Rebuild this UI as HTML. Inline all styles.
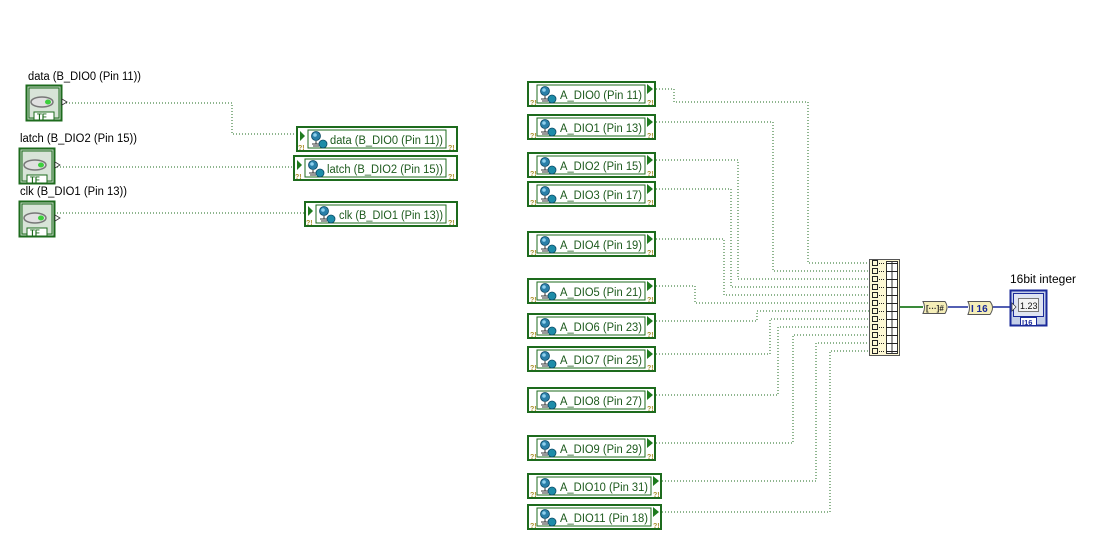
<!DOCTYPE html>
<html><head><meta charset="utf-8"><style>
html,body{margin:0;padding:0;background:#fff;width:1117px;height:557px;overflow:hidden}
svg{display:block}
text{font-family:"Liberation Sans",sans-serif}
</style></head><body>
<svg width="1117" height="557" viewBox="0 0 1117 557" xmlns="http://www.w3.org/2000/svg">
<defs>
<g id="glob">
 <circle cx="5" cy="5" r="4.5" fill="#2a7fa8" stroke="#0d4a66" stroke-width="0.8"/>
 <circle cx="4" cy="4" r="1.8" fill="#8fd0ee"/>
 <path d="M5 10 V13 M1 13 H9 M2 15 H8" stroke="#333" stroke-width="1"/>
 <circle cx="12" cy="13" r="4" fill="#1d8ca8" stroke="#0d4a66" stroke-width="0.8"/>
</g>
<g id="qq"><text font-size="7" font-weight="bold" fill="#a8902a">?!</text></g>
<g id="bool">
 <rect x="0.5" y="0.5" width="35" height="35" fill="#c8d8c8" stroke="#1d6b1d" stroke-width="2"/>
 <rect x="3" y="3" width="30" height="30" fill="#d8e4d8" stroke="#1d6b1d" stroke-width="1"/>
 <ellipse cx="16" cy="17" rx="11" ry="5" fill="#e0e0e0" stroke="#777" stroke-width="1.5"/>
 <ellipse cx="22" cy="17" rx="3" ry="2.5" fill="#3ccf3c"/>
 <rect x="8" y="27" width="20" height="8" fill="#fff" stroke="#1d6b1d" stroke-width="1"/>
 <text x="11" y="34.5" font-size="8" font-weight="bold" fill="#1d6b1d">TF</text>
 <path d="M36 14 L41 17 L36 20 Z" fill="#fff" stroke="#333" stroke-width="0.8"/>
</g>
</defs>
<g fill="none" stroke="#1d6b1d" stroke-width="1" stroke-dasharray="1,2">
 <path d="M63 103 H232 V134 H298"/>
 <path d="M57 167 H295"/>
 <path d="M57 213 H306"/>
 <path d="M656 89 H674 V102 H808 V263 H869"/>
 <path d="M656 122 H773 V271 H869"/>
 <path d="M656 160 H738 V279 H869"/>
 <path d="M656 189 H731 V287 H869"/>
 <path d="M656 239 H724 V295 H869"/>
 <path d="M656 286 H695 V303 H869"/>
 <path d="M656 321 H757 V311 H869"/>
 <path d="M656 354 H770 V319 H869"/>
 <path d="M656 395 H778 V327 H869"/>
 <path d="M656 443 H793 V335 H869"/>
 <path d="M662 481 H816 V343 H869"/>
 <path d="M662 512 H830 V351 H869"/>
 <path d="M900 307 H923" stroke-dasharray="none" stroke-width="2" stroke="#3a8a3a"/>
</g>
<path d="M948 307 H968 M993 307 H1012" stroke="#1a2a9a" stroke-width="1.5"/>

<text x="28" y="80" font-size="11.5" fill="#000" textLength="113" lengthAdjust="spacingAndGlyphs">data (B_DIO0 (Pin 11))</text>
<use href="#bool" x="26" y="85"/>
<text x="20" y="142" font-size="11.5" fill="#000" textLength="117" lengthAdjust="spacingAndGlyphs">latch (B_DIO2 (Pin 15))</text>
<use href="#bool" x="19" y="148"/>
<text x="20" y="195" font-size="11.5" fill="#000" textLength="107" lengthAdjust="spacingAndGlyphs">clk (B_DIO1 (Pin 13))</text>
<use href="#bool" x="19" y="201"/>

<g>
 <rect x="297" y="127" width="160" height="24" fill="#fff" stroke="#1d6b1d" stroke-width="2"/>
 <rect x="308" y="130" width="138" height="18" fill="#fff" stroke="#1d6b1d"/>
 <path d="M300 131 L305 136 L300 141Z" fill="#1d7a1d"/>
 <use href="#qq" x="298" y="150"/><use href="#qq" x="448" y="150"/>
 <use href="#glob" x="311" y="131"/>
 <text x="330" y="144" font-size="11.5" fill="#1d5a1d" textLength="113" lengthAdjust="spacingAndGlyphs">data (B_DIO0 (Pin 11))</text>
</g>
<g>
 <rect x="294" y="156" width="163" height="24" fill="#fff" stroke="#1d6b1d" stroke-width="2"/>
 <rect x="305" y="159" width="141" height="18" fill="#fff" stroke="#1d6b1d"/>
 <path d="M297 160 L302 165 L297 170Z" fill="#1d7a1d"/>
 <use href="#qq" x="295" y="179"/><use href="#qq" x="448" y="179"/>
 <use href="#glob" x="308" y="160"/>
 <text x="327" y="173" font-size="11.5" fill="#1d5a1d" textLength="116" lengthAdjust="spacingAndGlyphs">latch (B_DIO2 (Pin 15))</text>
</g>
<g>
 <rect x="305" y="202" width="152" height="24" fill="#fff" stroke="#1d6b1d" stroke-width="2"/>
 <rect x="316" y="205" width="130" height="18" fill="#fff" stroke="#1d6b1d"/>
 <path d="M308 206 L313 211 L308 216Z" fill="#1d7a1d"/>
 <use href="#qq" x="306" y="225"/><use href="#qq" x="448" y="225"/>
 <use href="#glob" x="319" y="206"/>
 <text x="339" y="219" font-size="11.5" fill="#1d5a1d" textLength="104" lengthAdjust="spacingAndGlyphs">clk (B_DIO1 (Pin 13))</text>
</g>

<g>
 <rect x="528" y="82" width="127" height="24" fill="#fff" stroke="#1d6b1d" stroke-width="2"/>
 <rect x="537" y="85" width="108" height="18" fill="#fff" stroke="#1d6b1d"/>
 <path d="M647 84 L653 89 L647 94Z" fill="#1d7a1d"/>
 <use href="#qq" x="530" y="105"/><use href="#qq" x="647" y="105"/>
 <use href="#glob" x="540" y="86"/>
 <text x="560" y="99" font-size="11.5" fill="#1d5a1d" textLength="82" lengthAdjust="spacingAndGlyphs">A_DIO0 (Pin 11)</text>
</g>
<g transform="translate(0,33)">
 <rect x="528" y="82" width="127" height="24" fill="#fff" stroke="#1d6b1d" stroke-width="2"/>
 <rect x="537" y="85" width="108" height="18" fill="#fff" stroke="#1d6b1d"/>
 <path d="M647 84 L653 89 L647 94Z" fill="#1d7a1d"/>
 <use href="#qq" x="530" y="105"/><use href="#qq" x="647" y="105"/>
 <use href="#glob" x="540" y="86"/>
 <text x="560" y="99" font-size="11.5" fill="#1d5a1d" textLength="82" lengthAdjust="spacingAndGlyphs">A_DIO1 (Pin 13)</text>
</g>
<g transform="translate(0,71)">
 <rect x="528" y="82" width="127" height="24" fill="#fff" stroke="#1d6b1d" stroke-width="2"/>
 <rect x="537" y="85" width="108" height="18" fill="#fff" stroke="#1d6b1d"/>
 <path d="M647 84 L653 89 L647 94Z" fill="#1d7a1d"/>
 <use href="#qq" x="530" y="105"/><use href="#qq" x="647" y="105"/>
 <use href="#glob" x="540" y="86"/>
 <text x="560" y="99" font-size="11.5" fill="#1d5a1d" textLength="82" lengthAdjust="spacingAndGlyphs">A_DIO2 (Pin 15)</text>
</g>
<g transform="translate(0,100)">
 <rect x="528" y="82" width="127" height="24" fill="#fff" stroke="#1d6b1d" stroke-width="2"/>
 <rect x="537" y="85" width="108" height="18" fill="#fff" stroke="#1d6b1d"/>
 <path d="M647 84 L653 89 L647 94Z" fill="#1d7a1d"/>
 <use href="#qq" x="530" y="105"/><use href="#qq" x="647" y="105"/>
 <use href="#glob" x="540" y="86"/>
 <text x="560" y="99" font-size="11.5" fill="#1d5a1d" textLength="82" lengthAdjust="spacingAndGlyphs">A_DIO3 (Pin 17)</text>
</g>
<g transform="translate(0,150)">
 <rect x="528" y="82" width="127" height="24" fill="#fff" stroke="#1d6b1d" stroke-width="2"/>
 <rect x="537" y="85" width="108" height="18" fill="#fff" stroke="#1d6b1d"/>
 <path d="M647 84 L653 89 L647 94Z" fill="#1d7a1d"/>
 <use href="#qq" x="530" y="105"/><use href="#qq" x="647" y="105"/>
 <use href="#glob" x="540" y="86"/>
 <text x="560" y="99" font-size="11.5" fill="#1d5a1d" textLength="82" lengthAdjust="spacingAndGlyphs">A_DIO4 (Pin 19)</text>
</g>
<g transform="translate(0,197)">
 <rect x="528" y="82" width="127" height="24" fill="#fff" stroke="#1d6b1d" stroke-width="2"/>
 <rect x="537" y="85" width="108" height="18" fill="#fff" stroke="#1d6b1d"/>
 <path d="M647 84 L653 89 L647 94Z" fill="#1d7a1d"/>
 <use href="#qq" x="530" y="105"/><use href="#qq" x="647" y="105"/>
 <use href="#glob" x="540" y="86"/>
 <text x="560" y="99" font-size="11.5" fill="#1d5a1d" textLength="82" lengthAdjust="spacingAndGlyphs">A_DIO5 (Pin 21)</text>
</g>
<g transform="translate(0,232)">
 <rect x="528" y="82" width="127" height="24" fill="#fff" stroke="#1d6b1d" stroke-width="2"/>
 <rect x="537" y="85" width="108" height="18" fill="#fff" stroke="#1d6b1d"/>
 <path d="M647 84 L653 89 L647 94Z" fill="#1d7a1d"/>
 <use href="#qq" x="530" y="105"/><use href="#qq" x="647" y="105"/>
 <use href="#glob" x="540" y="86"/>
 <text x="560" y="99" font-size="11.5" fill="#1d5a1d" textLength="82" lengthAdjust="spacingAndGlyphs">A_DIO6 (Pin 23)</text>
</g>
<g transform="translate(0,265)">
 <rect x="528" y="82" width="127" height="24" fill="#fff" stroke="#1d6b1d" stroke-width="2"/>
 <rect x="537" y="85" width="108" height="18" fill="#fff" stroke="#1d6b1d"/>
 <path d="M647 84 L653 89 L647 94Z" fill="#1d7a1d"/>
 <use href="#qq" x="530" y="105"/><use href="#qq" x="647" y="105"/>
 <use href="#glob" x="540" y="86"/>
 <text x="560" y="99" font-size="11.5" fill="#1d5a1d" textLength="82" lengthAdjust="spacingAndGlyphs">A_DIO7 (Pin 25)</text>
</g>
<g transform="translate(0,306)">
 <rect x="528" y="82" width="127" height="24" fill="#fff" stroke="#1d6b1d" stroke-width="2"/>
 <rect x="537" y="85" width="108" height="18" fill="#fff" stroke="#1d6b1d"/>
 <path d="M647 84 L653 89 L647 94Z" fill="#1d7a1d"/>
 <use href="#qq" x="530" y="105"/><use href="#qq" x="647" y="105"/>
 <use href="#glob" x="540" y="86"/>
 <text x="560" y="99" font-size="11.5" fill="#1d5a1d" textLength="82" lengthAdjust="spacingAndGlyphs">A_DIO8 (Pin 27)</text>
</g>
<g transform="translate(0,354)">
 <rect x="528" y="82" width="127" height="24" fill="#fff" stroke="#1d6b1d" stroke-width="2"/>
 <rect x="537" y="85" width="108" height="18" fill="#fff" stroke="#1d6b1d"/>
 <path d="M647 84 L653 89 L647 94Z" fill="#1d7a1d"/>
 <use href="#qq" x="530" y="105"/><use href="#qq" x="647" y="105"/>
 <use href="#glob" x="540" y="86"/>
 <text x="560" y="99" font-size="11.5" fill="#1d5a1d" textLength="82" lengthAdjust="spacingAndGlyphs">A_DIO9 (Pin 29)</text>
</g>
<g transform="translate(0,392)">
 <rect x="528" y="82" width="133" height="24" fill="#fff" stroke="#1d6b1d" stroke-width="2"/>
 <rect x="537" y="85" width="114" height="18" fill="#fff" stroke="#1d6b1d"/>
 <path d="M653 84 L659 89 L653 94Z" fill="#1d7a1d"/>
 <use href="#qq" x="530" y="105"/><use href="#qq" x="653" y="105"/>
 <use href="#glob" x="540" y="86"/>
 <text x="560" y="99" font-size="11.5" fill="#1d5a1d" textLength="88" lengthAdjust="spacingAndGlyphs">A_DIO10 (Pin 31)</text>
</g>
<g transform="translate(0,423)">
 <rect x="528" y="82" width="133" height="24" fill="#fff" stroke="#1d6b1d" stroke-width="2"/>
 <rect x="537" y="85" width="114" height="18" fill="#fff" stroke="#1d6b1d"/>
 <path d="M653 84 L659 89 L653 94Z" fill="#1d7a1d"/>
 <use href="#qq" x="530" y="105"/><use href="#qq" x="653" y="105"/>
 <use href="#glob" x="540" y="86"/>
 <text x="560" y="99" font-size="11.5" fill="#1d5a1d" textLength="88" lengthAdjust="spacingAndGlyphs">A_DIO11 (Pin 18)</text>
</g>

<rect x="869.5" y="259.5" width="30" height="96" fill="#fdf8d4" stroke="#555"/>
<rect x="886.5" y="261.5" width="11" height="92" fill="#fff" stroke="#333"/>
<path d="M892 262 V353" stroke="#333"/>
<g stroke="#222" fill="none">
 <rect x="872.5" y="260.5" width="5" height="5"/><rect x="872.5" y="268.5" width="5" height="5"/>
 <rect x="872.5" y="276.5" width="5" height="5"/><rect x="872.5" y="284.5" width="5" height="5"/>
 <rect x="872.5" y="292.5" width="5" height="5"/><rect x="872.5" y="300.5" width="5" height="5"/>
 <rect x="872.5" y="308.5" width="5" height="5"/><rect x="872.5" y="316.5" width="5" height="5"/>
 <rect x="872.5" y="324.5" width="5" height="5"/><rect x="872.5" y="332.5" width="5" height="5"/>
 <rect x="872.5" y="340.5" width="5" height="5"/><rect x="872.5" y="348.5" width="5" height="5"/>
 <path d="M886 263.5 H898 M886 271.5 H898 M886 279.5 H898 M886 287.5 H898 M886 295.5 H898 M886 303.5 H898 M886 311.5 H898 M886 319.5 H898 M886 327.5 H898 M886 335.5 H898 M886 343.5 H898 M886 351.5 H898" />
 <path d="M879 263.5 H885 M879 271.5 H885 M879 279.5 H885 M879 287.5 H885 M879 295.5 H885 M879 303.5 H885 M879 311.5 H885 M879 319.5 H885 M879 327.5 H885 M879 335.5 H885 M879 343.5 H885 M879 351.5 H885" stroke-dasharray="1,1"/>
</g>

<path d="M923 301.5 H945 Q949 307 945 313.5 H923 Q926 307 923 301.5Z" fill="#f5eeb8" stroke="#555"/>
<text x="926" y="311" font-size="8" font-weight="bold" fill="#2a2a2a">[···]#</text>
<path d="M968 301.5 H990 Q995 307.5 990 314.5 H968 Q971 307.5 968 301.5Z" fill="#f5eeb8" stroke="#555"/>
<text x="971" y="312" font-size="10" font-weight="bold" fill="#1a2a9a" font-family="Liberation Serif">I 16</text>

<text x="1010" y="283" font-size="11.5" fill="#000" textLength="66" lengthAdjust="spacingAndGlyphs">16bit integer</text>
<rect x="1010.5" y="290.5" width="36" height="35" fill="#c4cfe8" stroke="#1a2a9a" stroke-width="2"/>
<rect x="1013.5" y="293.5" width="30" height="23" fill="#dfe4f2" stroke="#1a2a9a"/>
<rect x="1018.5" y="298.5" width="20" height="13" fill="#f4f4f4" stroke="#777"/>
<text x="1020" y="309" font-size="9" fill="#111">1.23</text>
<path d="M1012 303 L1016 307 L1012 311Z" fill="#fff" stroke="#333" stroke-width="0.7"/>
<rect x="1020.5" y="317.5" width="16" height="8" fill="#fff" stroke="#1a2a9a"/>
<text x="1022" y="325" font-size="7.5" font-weight="bold" fill="#1a2a9a">I16</text>
</svg>
</body></html>
